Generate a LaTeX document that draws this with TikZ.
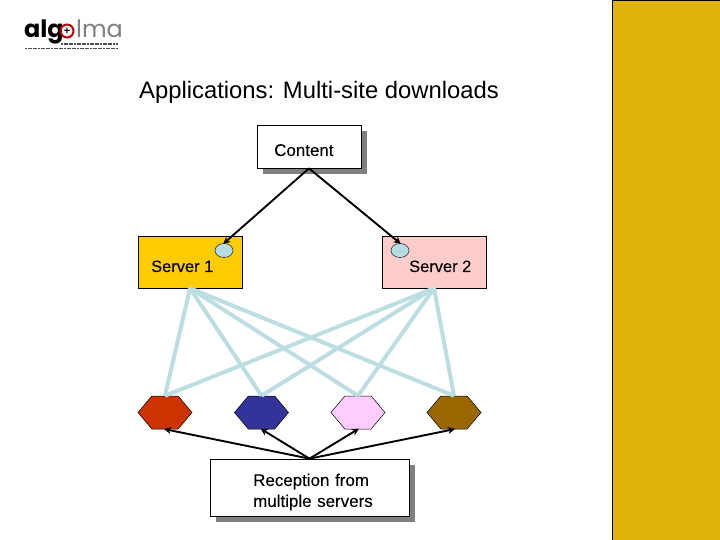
\documentclass[tikz,border=0pt]{standalone}
\usepackage{fontspec}
\setmainfont{Liberation Sans}
\newfontfamily\logofont{Poppins}
\usetikzlibrary{shapes.geometric,shapes.symbols,arrows.meta}
\definecolor{sidebar}{HTML}{DDB30C}
\definecolor{srvone}{HTML}{FFCC00}
\definecolor{srvtwo}{HTML}{FFCCCC}
\definecolor{dotblue}{HTML}{B8DCE4}
\definecolor{linkblue}{HTML}{BCDEE3}
\definecolor{hexa}{HTML}{CC3300}
\definecolor{hexb}{HTML}{333399}
\definecolor{hexc}{HTML}{FFCCFF}
\definecolor{hexd}{HTML}{996600}
\definecolor{shadowgray}{HTML}{808080}
\tikzset{
  lbl/.style={inner sep=0pt,font=\fontsize{17}{21}\selectfont\addfontfeatures{FakeBold=0.12},align=left,text=black},
  srvlbl/.style={inner sep=0pt,font=\fontsize{16.5}{21}\selectfont\addfontfeatures{FakeBold=0.12},text=black},
  plainbox/.style={draw=black,line width=0.7pt,fill=white,minimum width=#1,inner sep=0pt},
  shadowbox/.style={fill=shadowgray,draw=none,inner sep=0pt},
  server/.style={draw=black,line width=0.5pt,minimum width=104bp,minimum height=52bp,inner sep=0pt},
  hexnode/.style={signal,signal to=west and east,signal pointer angle=100,draw=black,line width=0.5pt,minimum width=54bp,minimum height=33bp,inner sep=0pt},
  portdot/.style={ellipse,draw=black!80,line width=0.6pt,fill=dotblue,minimum width=18bp,minimum height=14bp,inner sep=0pt},
  feed/.style={draw=black,line width=1.9bp,-{Stealth[length=7bp,width=7bp]},shorten >=-1bp},
  link/.style={draw=linkblue,line width=4bp}
}
\begin{document}
\begin{tikzpicture}[x=1bp,y=-1bp]
\useasboundingbox (0,0) rectangle (720,540);
\fill[white] (0,0) rectangle (720,540);
% sidebar
\fill[sidebar] (612.5,0.5) rectangle (720,540);
\draw[black,line width=1bp] (612.5,540) -- (612.5,0.5) -- (720,0.5);
% logo
\node[inner sep=0pt,anchor=base west,font=\logofont\bfseries\fontsize{24}{24}\selectfont] (logoa) at (24,38) {alg};
\node[circle,draw=red!75!black,line width=2pt,minimum size=13bp,inner sep=0pt,font=\bfseries\fontsize{11}{11}\selectfont] (logob) at (67,31) {+};
\node[inner sep=0pt,anchor=base west,font=\logofont\fontsize{24}{24}\selectfont,text=black!50] (logoc) at (76,38) {lma};
\draw[black!70,line width=1.5bp,dash pattern=on 2bp off 0.6bp] (61,44) -- (118,44);
\draw[black!70,line width=1.5bp,dash pattern=on 2bp off 0.6bp] (25,48.5) -- (118,48.5);
% title
\node[inner sep=0pt,anchor=base west,font=\fontsize{23.9}{28}\selectfont] (title) at (139,98.5) {Applications: Multi-site downloads};
% content
\node[shadowbox,minimum width=104bp,minimum height=43bp] (contentshadow) at (315,152.5) {};
\node[plainbox=104bp,minimum height=43bp] (content) at (309,146.5) {};
\node[lbl,anchor=base west] (contentlbl) at (274,156) {Content};
% servers
\node[server,fill=srvone] (srva) at (190,262) {};
\node[server,fill=srvtwo] (srvb) at (434,262) {};
\node[srvlbl,anchor=base west] (srvalbl) at (151,272) {Server 1};
\node[srvlbl,anchor=base west] (srvblbl) at (409,272) {Server 2};
\node[portdot] (dota) at (224,250.5) {};
\node[portdot] (dotb) at (400,250.5) {};
% hexagons
\node[hexnode,fill=hexa] (ha) at (165,412.5) {};
\node[hexnode,fill=hexb] (hb) at (261.5,412.5) {};
\node[hexnode,fill=hexc] (hc) at (358,412.5) {};
\node[hexnode,fill=hexd] (hd) at (454,412.5) {};
% links
\foreach \s in {srva,srvb}
  \foreach \h in {ha,hb,hc,hd}
    \draw[link] (\s.south) -- (\h.north);
% reception
\node[shadowbox,minimum width=199bp,minimum height=57bp] (recshadow) at (315.5,493.5) {};
\node[plainbox=199bp,minimum height=57bp] (rec) at (309.5,487.5) {};
\node[lbl,anchor=north west,text width=140bp] (reclbl) at (253,473.5) {Reception from\\multiple servers};
% feeds
\draw[feed] (content.south) -- (dota.north);
\draw[feed] (content.south) -- (dotb.north);
\foreach \h in {ha,hb,hc,hd}
  \draw[feed] (rec.north) -- (\h.south);
\end{tikzpicture}
\end{document}
